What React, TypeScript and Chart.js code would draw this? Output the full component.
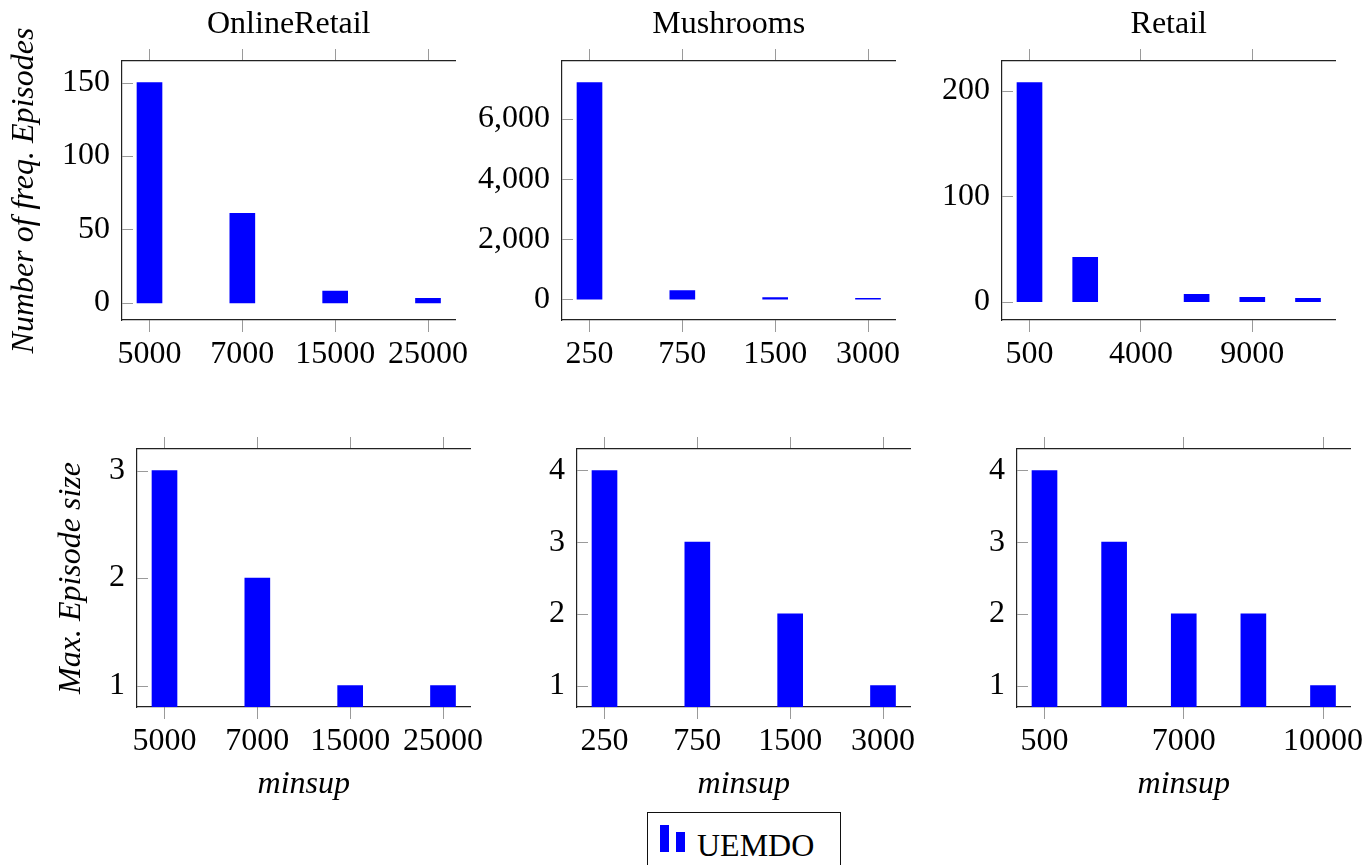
import React, { useEffect, useRef } from 'react';
import { Chart, registerables } from 'chart.js';

Chart.register(...registerables);

// ---------- data ----------
const onlineRetailLabels = ['5000', '7000', '15000', '25000'];
const onlineRetailEpisodes = [150, 61, 8, 3];
const onlineRetailMaxSize = [3, 2, 1, 1];

const mushroomsLabels = ['250', '750', '1500', '3000'];
const mushroomsEpisodes = [7216, 290, 55, 25];
const mushroomsMaxSize = [4, 3, 2, 1];

const retailTopLabels = ['500', '', '4000', '', '9000', ''];
const retailEpisodes = [208, 42, null, 7, 4, 3];
const retailBottomLabels = ['500', '', '7000', '', '10000'];
const retailMaxSize = [4, 3, 2, 2, 1];

const onlineRetailEpisodeTicks = [0, 50, 100, 150];
const mushroomsEpisodeTicks = [0, 2000, 4000, 6000];
const retailEpisodeTicks = [0, 100, 200];
const onlineRetailSizeTicks = [1, 2, 3];
const mushroomsSizeTicks = [1, 2, 3, 4];
const retailSizeTicks = [1, 2, 3, 4];

const titles = ['OnlineRetail', 'Mushrooms', 'Retail'];
const yTitleTop = 'Number of freq. Episodes';
const yTitleBottom = 'Max. Episode size';
const xTitle = 'minsup';
const seriesName = 'UEMDO';

// ---------- style ----------
const FONT = '"Liberation Serif", "Times New Roman", serif';
const FS = 32;
const BLUE = '#0000ff';
const AXIS = '#222222';
const TICK = '#9a9a9a';

type Panel = {
  labels: string[];
  values: (number | null)[];
  yTicks: number[];
  title?: string;
  yTitle?: string;
  yTitlePad?: number;
  xTitle?: string;
  canvas: { left: number; top: number; width: number; height: number };
  L: number; R: number; T: number; B: number;
};

const panels: Panel[] = [
  { labels: onlineRetailLabels, values: onlineRetailEpisodes, yTicks: onlineRetailEpisodeTicks, title: titles[0], yTitle: yTitleTop, yTitlePad: 5,
    canvas: { left: 0, top: 0, width: 490, height: 400 }, L: 122, R: 455.5, T: 61, B: 320 },
  { labels: mushroomsLabels, values: mushroomsEpisodes, yTicks: mushroomsEpisodeTicks, title: titles[1],
    canvas: { left: 470, top: 0, width: 460, height: 400 }, L: 562, R: 895.5, T: 61, B: 320 },
  { labels: retailTopLabels, values: retailEpisodes, yTicks: retailEpisodeTicks, title: titles[2],
    canvas: { left: 910, top: 0, width: 458, height: 400 }, L: 1002, R: 1335.5, T: 61, B: 320 },
  { labels: onlineRetailLabels, values: onlineRetailMaxSize, yTicks: onlineRetailSizeTicks, yTitle: yTitleBottom, yTitlePad: 52, xTitle,
    canvas: { left: 0, top: 400, width: 500, height: 410 }, L: 137, R: 470.5, T: 449, B: 707 },
  { labels: mushroomsLabels, values: mushroomsMaxSize, yTicks: mushroomsSizeTicks, xTitle,
    canvas: { left: 480, top: 400, width: 460, height: 410 }, L: 577, R: 910.5, T: 449, B: 707 },
  { labels: retailBottomLabels, values: retailMaxSize, yTicks: retailSizeTicks, xTitle,
    canvas: { left: 920, top: 400, width: 448, height: 410 }, L: 1017, R: 1350.5, T: 449, B: 707 },
];

const innerYTicks = {
  id: 'innerYTicks',
  afterDatasetsDraw(chart: any) {
    const { ctx, chartArea } = chart;
    const y = chart.scales.y;
    ctx.save();
    ctx.strokeStyle = TICK;
    ctx.lineWidth = 1;
    y.ticks.forEach((t: any) => {
      const py = Math.round(y.getPixelForValue(t.value)) + 0.5;
      ctx.beginPath();
      ctx.moveTo(chartArea.left, py);
      ctx.lineTo(chartArea.left + 11, py);
      ctx.stroke();
    });
    ctx.restore();
  },
};

function buildConfig(p: Panel): any {
  const n = p.labels.length;
  const plotW = p.R - p.L;
  const pad = (27.5 * (n - 1)) / (plotW - 55);
  const finite = p.values.filter((v) => v !== null) as number[];
  const lo0 = Math.min(...finite);
  const hi0 = Math.max(...finite);
  const ext = 0.1 * (hi0 - lo0);
  const tickIdx = p.labels.map((l, i) => (l !== '' ? i : -1)).filter((i) => i >= 0);
  const points = p.values
    .map((v, i) => (v === null ? null : { x: i, y: v }))
    .filter((d) => d !== null);

  const xCommon = {
    type: 'linear',
    axis: 'x',
    min: -pad,
    max: n - 1 + pad,
    offset: false,
    afterBuildTicks: (s: any) => {
      s.ticks = tickIdx.map((v) => ({ value: v }));
    },
    grid: { display: true, drawOnChartArea: false, drawTicks: true, tickLength: 12, color: TICK, lineWidth: 1, offset: false },
    border: { display: true, color: AXIS, width: 1.2 },
  };

  return {
    type: 'bar',
    data: {
      datasets: [
        {
          label: seriesName,
          data: points,
          backgroundColor: BLUE,
          borderWidth: 0,
          barThickness: 25,
        },
      ],
    },
    options: {
      animation: false,
      responsive: false,
      maintainAspectRatio: false,
      layout: {
        padding: { left: 0, top: 0, bottom: 0, right: p.canvas.left + p.canvas.width - p.R },
      },
      plugins: { legend: { display: false }, tooltip: { enabled: false }, title: { display: false } },
      scales: {
        x: {
          ...xCommon,
          position: 'bottom',
          afterFit: (s: any) => {
            s.height = p.canvas.top + p.canvas.height - p.B;
          },
          ticks: {
            callback: (v: any) => p.labels[Math.round(Number(v))],
            maxRotation: 0,
            autoSkip: false,
            padding: 3,
            color: '#000',
            font: { family: FONT, size: FS },
          },
          title: p.xTitle
            ? { display: true, text: p.xTitle, color: '#000', font: { family: FONT, size: FS, style: 'italic' }, padding: { top: 0, bottom: 6 } }
            : { display: false },
        },
        xTop: {
          ...xCommon,
          position: 'top',
          afterFit: (s: any) => {
            s.height = p.T - p.canvas.top;
          },
          ticks: { display: false },
          title: p.title
            ? { display: true, text: p.title, color: '#000', font: { family: FONT, size: FS }, padding: { top: 5, bottom: 0 } }
            : { display: false },
        },
        y: {
          type: 'linear',
          position: 'left',
          min: lo0 - ext,
          max: hi0 + ext,
          afterBuildTicks: (s: any) => {
            s.ticks = p.yTicks.map((v) => ({ value: v }));
          },
          afterFit: (s: any) => {
            s.width = p.L - p.canvas.left;
          },
          grid: { display: false, drawTicks: false },
          border: { display: true, color: AXIS, width: 1.2 },
          ticks: {
            padding: 12,
            color: '#000',
            font: { family: FONT, size: FS },
            callback: (v: any) => Number(v).toLocaleString('en-US'),
          },
          title: p.yTitle
            ? { display: true, text: p.yTitle, color: '#000', font: { family: FONT, size: FS, style: 'italic' }, padding: { top: p.yTitlePad || 0, bottom: 0 } }
            : { display: false },
        },
      },
    },
    plugins: [innerYTicks],
  };
}

function PanelChart({ p }: { p: Panel }) {
  const ref = useRef<HTMLCanvasElement | null>(null);
  useEffect(() => {
    if (!ref.current) return;
    const chart = new Chart(ref.current, buildConfig(p));
    return () => chart.destroy();
  }, [p]);
  return (
    <canvas
      ref={ref}
      width={p.canvas.width}
      height={p.canvas.height}
      style={{ position: 'absolute', left: p.canvas.left, top: p.canvas.top, width: p.canvas.width, height: p.canvas.height }}
    />
  );
}

export default function App() {
  return (
    <div style={{ position: 'fixed', left: 0, top: 0, width: 1368, height: 865, background: '#fff', overflow: 'hidden' }}>
      {panels.map((p, i) => (
        <PanelChart key={i} p={p} />
      ))}
      <div
        style={{
          position: 'absolute',
          left: 647,
          top: 812,
          width: 194,
          height: 80,
          border: '1.3px solid #111',
          boxSizing: 'border-box',
          background: '#fff',
        }}
      >
        <div style={{ position: 'absolute', left: 12, top: 12, width: 9, height: 27, background: BLUE }} />
        <div style={{ position: 'absolute', left: 28, top: 19, width: 9, height: 20, background: BLUE }} />
        <span
          style={{
            position: 'absolute',
            left: 49,
            top: 16,
            fontFamily: FONT,
            fontSize: FS,
            lineHeight: '32px',
            color: '#000',
            whiteSpace: 'nowrap',
          }}
        >
          {seriesName}
        </span>
      </div>
    </div>
  );
}
